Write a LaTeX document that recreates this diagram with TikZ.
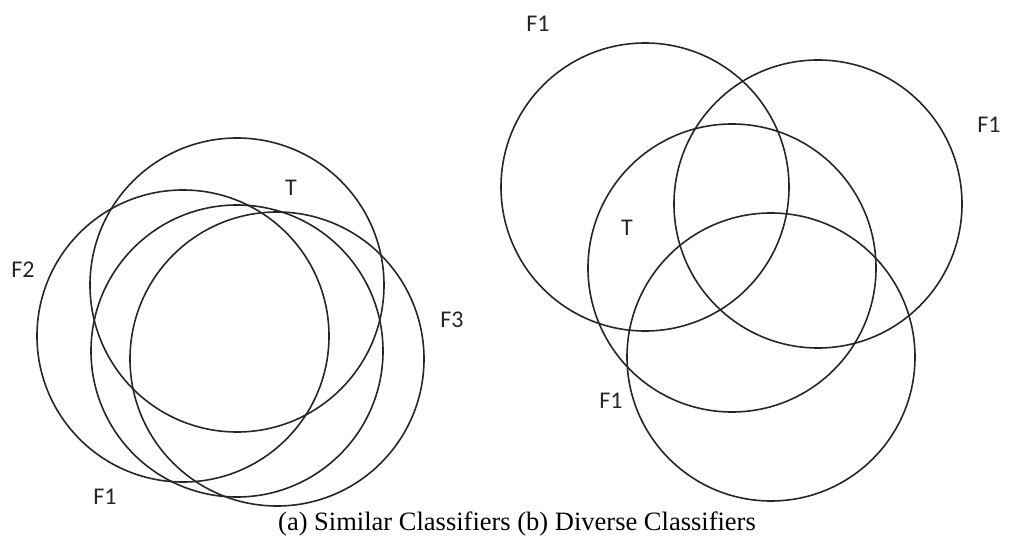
\documentclass[tikz,border=0pt]{standalone}
\usepackage{fontspec}
\setmainfont{Liberation Serif}
\newfontfamily\labelfont{Carlito}
\usetikzlibrary{positioning}
\tikzset{
  ring/.style={circle, draw=black!85, line width=1.6pt, inner sep=0pt},
  setlabel/.style={font=\labelfont\fontsize{24}{24}\selectfont, text=black!85, inner sep=0pt},
  caption/.style={font=\fontsize{26.5}{28}\selectfont, inner sep=0pt}
}
\begin{document}
\begin{tikzpicture}[x=1pt, y=-1pt]
\useasboundingbox (0,0) rectangle (1018,537);
% (a) similar classifiers
\node (simT)  [ring, minimum size=294pt] at (237,285) {};
\node (simF2) [ring, minimum size=292pt] at (183,336) {};
\node (simF1) [ring, minimum size=292pt] at (237,351) {};
\node (simF3) [ring, minimum size=294pt] at (277,359) {};
\node (labT)  [setlabel] at (291,188) {T};
\node (labF2) [setlabel] at (23,270) {F2};
\node (labF1) [setlabel] at (105,497) {F1};
\node (labF3) [setlabel] at (452,320) {F3};
% (b) diverse classifiers
\node (divA) [ring, minimum size=288pt] at (645,187) {};
\node (divB) [ring, minimum size=288pt] at (818,204) {};
\node (divT) [ring, minimum size=288pt] at (732,268) {};
\node (divC) [ring, minimum size=288pt] at (771,357) {};
\node (labdA) [setlabel] at (538,24)  {F1};
\node (labdB) [setlabel] at (989,125) {F1};
\node (labdT) [setlabel] at (627,228) {T};
\node (labdC) [setlabel] at (611,401) {F1};
\node (cap) [caption] at (517,524) {(a) Similar Classifiers (b) Diverse Classifiers};
\end{tikzpicture}
\end{document}
